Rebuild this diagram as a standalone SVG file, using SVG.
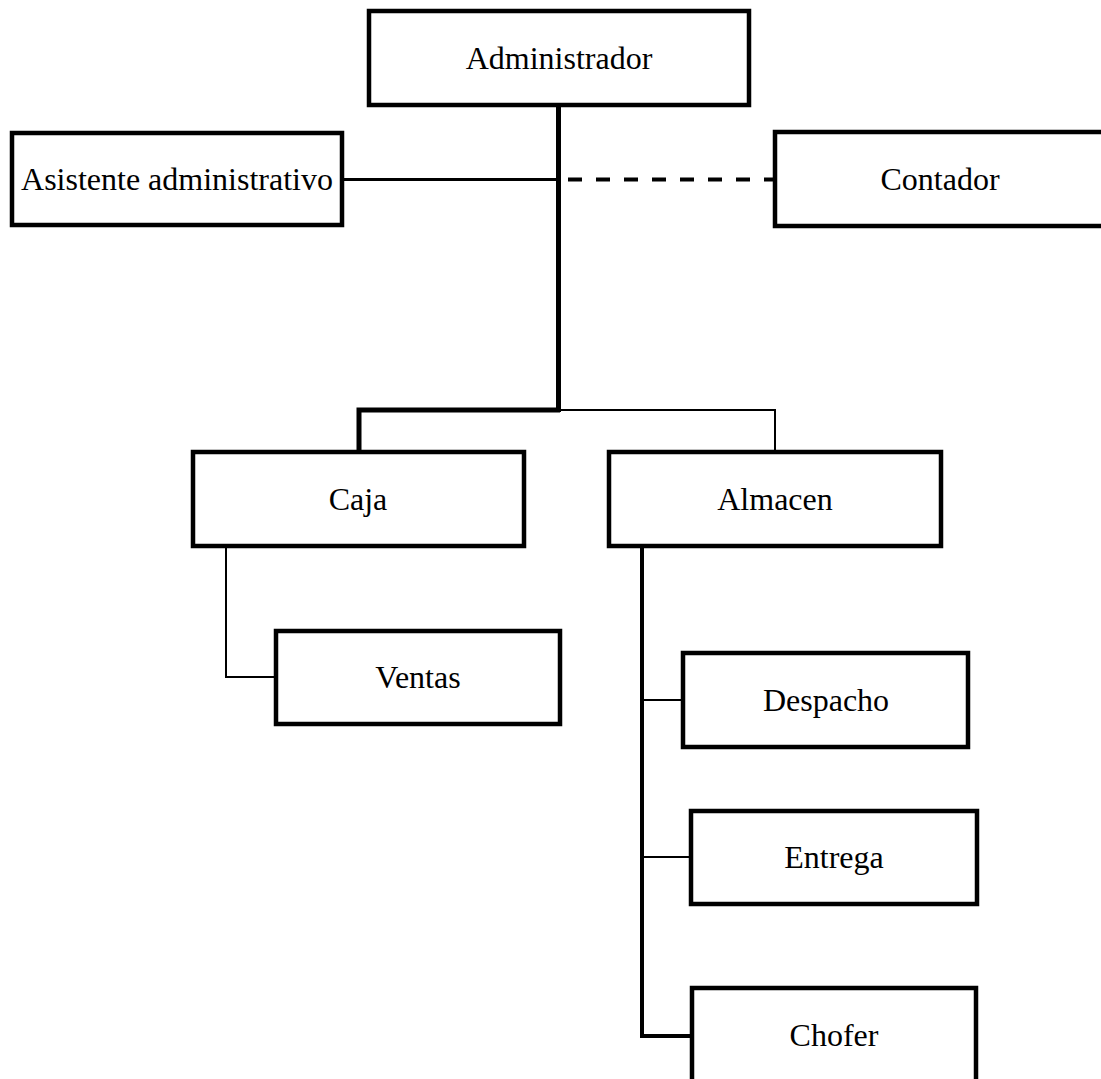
<svg xmlns="http://www.w3.org/2000/svg" width="1101" height="1079" viewBox="0 0 1101 1079">
<style>
.box{fill:#fff;stroke:#000;stroke-width:4.5}
.lbl{font-family:"Liberation Serif","Times New Roman",serif;font-size:32px;fill:#000;text-anchor:middle}
.c{fill:none;stroke:#000;stroke-linecap:butt;stroke-linejoin:miter}
</style>
<rect width="1101" height="1079" fill="#fff"/>
<g id="connectors">
<line class="c" x1="558.5" y1="105" x2="558.5" y2="412" stroke-width="5"/>
<line class="c" x1="342" y1="179.5" x2="558" y2="179.5" stroke-width="3"/>
<line class="c" x1="568" y1="179.5" x2="775" y2="179.5" stroke-width="4" stroke-dasharray="14 14"/>
<polyline class="c" points="560,410 359,410 359,452" stroke-width="5"/>
<polyline class="c" points="558,410 775,410 775,452" stroke-width="2"/>
<polyline class="c" points="226,546 226,677 276,677" stroke-width="2"/>
<polyline class="c" points="642,546 642,1036 692,1036" stroke-width="4"/>
<line class="c" x1="642" y1="700" x2="683" y2="700" stroke-width="2"/>
<line class="c" x1="642" y1="857" x2="691" y2="857" stroke-width="2"/>
</g>
<g id="n-administrador">
<rect class="box" x="369" y="11" width="380" height="94"/>
<text class="lbl" x="559" y="69">Administrador</text>
</g>
<g id="n-asistente">
<rect class="box" x="12" y="133" width="330" height="92"/>
<text class="lbl" x="177" y="190">Asistente administrativo</text>
</g>
<g id="n-contador">
<rect class="box" x="775" y="132" width="340" height="94"/>
<text class="lbl" x="940" y="190">Contador</text>
</g>
<g id="n-caja">
<rect class="box" x="193" y="452" width="331" height="94"/>
<text class="lbl" x="358" y="510">Caja</text>
</g>
<g id="n-almacen">
<rect class="box" x="609" y="452" width="332" height="94"/>
<text class="lbl" x="775" y="510">Almacen</text>
</g>
<g id="n-ventas">
<rect class="box" x="276" y="631" width="284" height="93"/>
<text class="lbl" x="418" y="688">Ventas</text>
</g>
<g id="n-despacho">
<rect class="box" x="683" y="653" width="285" height="94"/>
<text class="lbl" x="826" y="711">Despacho</text>
</g>
<g id="n-entrega">
<rect class="box" x="691" y="811" width="286" height="93"/>
<text class="lbl" x="834" y="868">Entrega</text>
</g>
<g id="n-chofer">
<rect class="box" x="692" y="988" width="284" height="110"/>
<text class="lbl" x="834" y="1046">Chofer</text>
</g>
</svg>
